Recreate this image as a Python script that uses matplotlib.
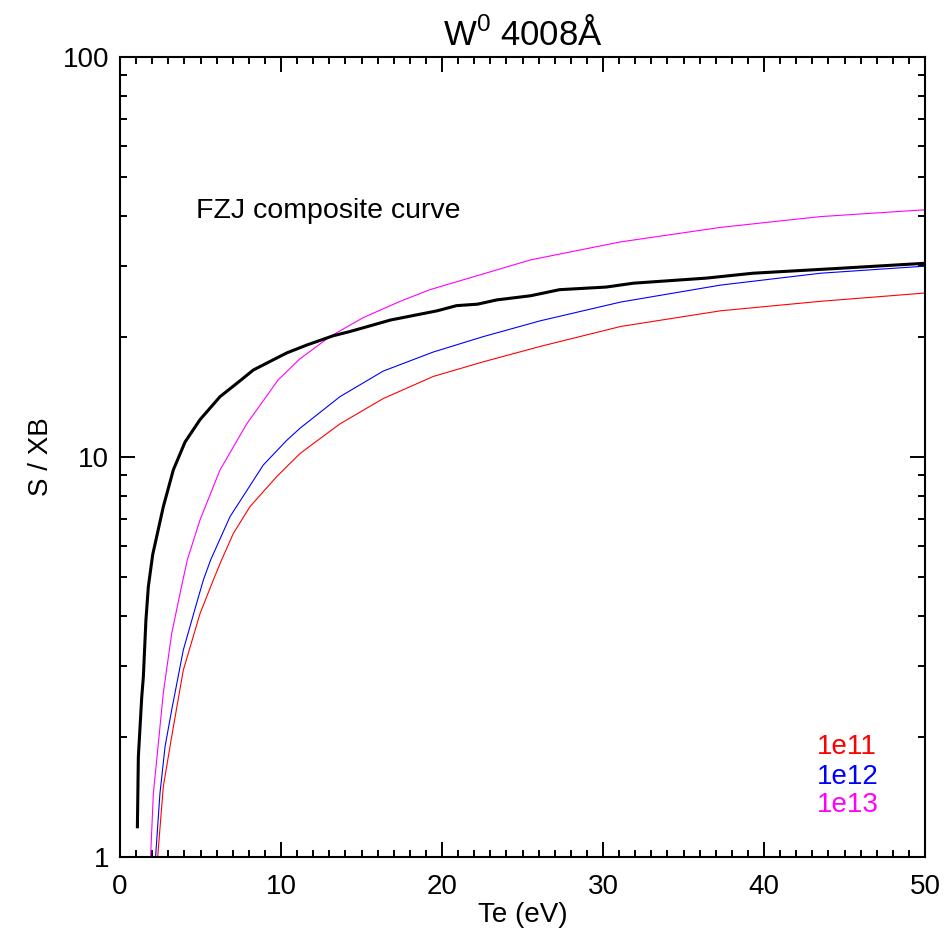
import numpy as np
import matplotlib
matplotlib.use("Agg")
import matplotlib.pyplot as plt
from matplotlib.ticker import MultipleLocator, LogLocator, NullFormatter, FixedLocator

plt.rcParams['font.family'] = ['Liberation Sans', 'DejaVu Sans']

# FZJ composite curve (black)
te_fzj = [1.08, 1.14, 1.35, 1.45, 1.61, 1.76, 2.03, 2.69, 3.31, 4.04, 4.97, 6.21,
          7.45, 8.28, 10.35, 11.6, 13.25, 14.3, 16.8, 19.7, 20.9, 22.2, 23.4, 25.5,
          27.3, 30.2, 31.9, 36.4, 39.3, 44.5, 50.0]
sxb_fzj = [1.19, 1.78, 2.51, 2.82, 3.91, 4.74, 5.7, 7.51, 9.28, 10.9, 12.4, 14.15,
           15.5, 16.5, 18.2, 19.05, 20.1, 20.6, 22.0, 23.2, 23.9, 24.1, 24.7, 25.3,
           26.2, 26.6, 27.2, 28.0, 28.8, 29.6, 30.5]

# ADAS curves at three densities
te_1e11 = [2.34, 2.69, 3.21, 3.93, 4.97, 5.8, 6.31, 7.04, 8.07, 9.73, 11.18, 11.8,
           13.66, 16.35, 19.46, 22.57, 26.1, 31.1, 37.3, 43.5, 50.0]
sxb_1e11 = [1.0, 1.50, 2.0, 2.93, 4.06, 4.93, 5.53, 6.44, 7.51, 8.93, 10.2, 10.65,
            12.1, 14.0, 15.9, 17.3, 18.9, 21.2, 23.2, 24.5, 25.7]

te_1e12 = [2.21, 2.48, 2.80, 3.21, 3.93, 4.76, 5.18, 5.63, 6.83, 8.9, 10.35, 11.18,
           13.66, 16.35, 19.46, 22.57, 26.1, 31.1, 37.3, 43.5, 50.0]
sxb_1e12 = [1.0, 1.44, 1.89, 2.33, 3.29, 4.31, 4.93, 5.53, 7.09, 9.55, 11.0, 11.8,
            14.15, 16.4, 18.3, 20.0, 21.9, 24.4, 26.9, 28.8, 30.0]

te_1e13 = [1.90, 2.07, 2.38, 2.69, 3.21, 3.73, 4.18, 4.97, 6.21, 7.87, 9.83, 11.18,
           13.04, 15.1, 17.4, 19.25, 25.5, 31.1, 37.3, 43.5, 50.0]
sxb_1e13 = [1.0, 1.44, 1.92, 2.57, 3.62, 4.56, 5.53, 6.96, 9.28, 12.1, 15.6, 17.6,
            20.0, 22.3, 24.5, 26.2, 31.1, 34.5, 37.5, 39.9, 41.5]

fig = plt.figure(figsize=(9.47, 9.35), dpi=100)
ax = fig.add_axes([120/947, 1 - 857/935, 805/947, 800/935])

ax.plot(te_1e11, sxb_1e11, color='#ff0000', lw=0.8)
ax.plot(te_1e12, sxb_1e12, color='#0000ff', lw=0.8)
ax.plot(te_1e13, sxb_1e13, color='#ff00ff', lw=0.8)
ax.plot(te_fzj, sxb_fzj, color='black', lw=2.2)

ax.set_yscale('log')
ax.set_xlim(0, 50)
ax.set_ylim(1, 100)

ax.xaxis.set_major_locator(MultipleLocator(10))
ax.xaxis.set_minor_locator(MultipleLocator(1))
ax.yaxis.set_major_locator(FixedLocator([1, 10, 100]))
ax.yaxis.set_minor_locator(LogLocator(base=10, subs=np.arange(2, 10)))
ax.yaxis.set_minor_formatter(NullFormatter())
ax.set_yticklabels(['1', '10', '100'])

ax.tick_params(which='both', direction='in', top=True, right=True, width=1.4, labelsize=20)
ax.tick_params(axis='x', which='both', pad=12)
ax.tick_params(axis='y', which='both', pad=8)
ax.tick_params(which='major', length=11)
ax.tick_params(which='minor', length=5)
for s in ax.spines.values():
    s.set_linewidth(1.5)

ax.set_xlabel('Te (eV)', fontsize=20, labelpad=2)
ax.set_ylabel('S / XB', fontsize=20, labelpad=6)
ax.set_title(r'W$^{\mathregular{0}}$ 4008Å', fontsize=25, pad=9)

ax.text(0.0944, 0.8075, 'FZJ composite curve', transform=ax.transAxes,
        fontsize=20.5, va='center', ha='left')
ax.text(0.8655, 0.138, '1e11', transform=ax.transAxes, color='#ff0000', fontsize=20, va='center')
ax.text(0.8655, 0.100, '1e12', transform=ax.transAxes, color='#0000ff', fontsize=20, va='center')
ax.text(0.8655, 0.0645, '1e13', transform=ax.transAxes, color='#ff00ff', fontsize=20, va='center')

fig.savefig('out.png', dpi=100)
